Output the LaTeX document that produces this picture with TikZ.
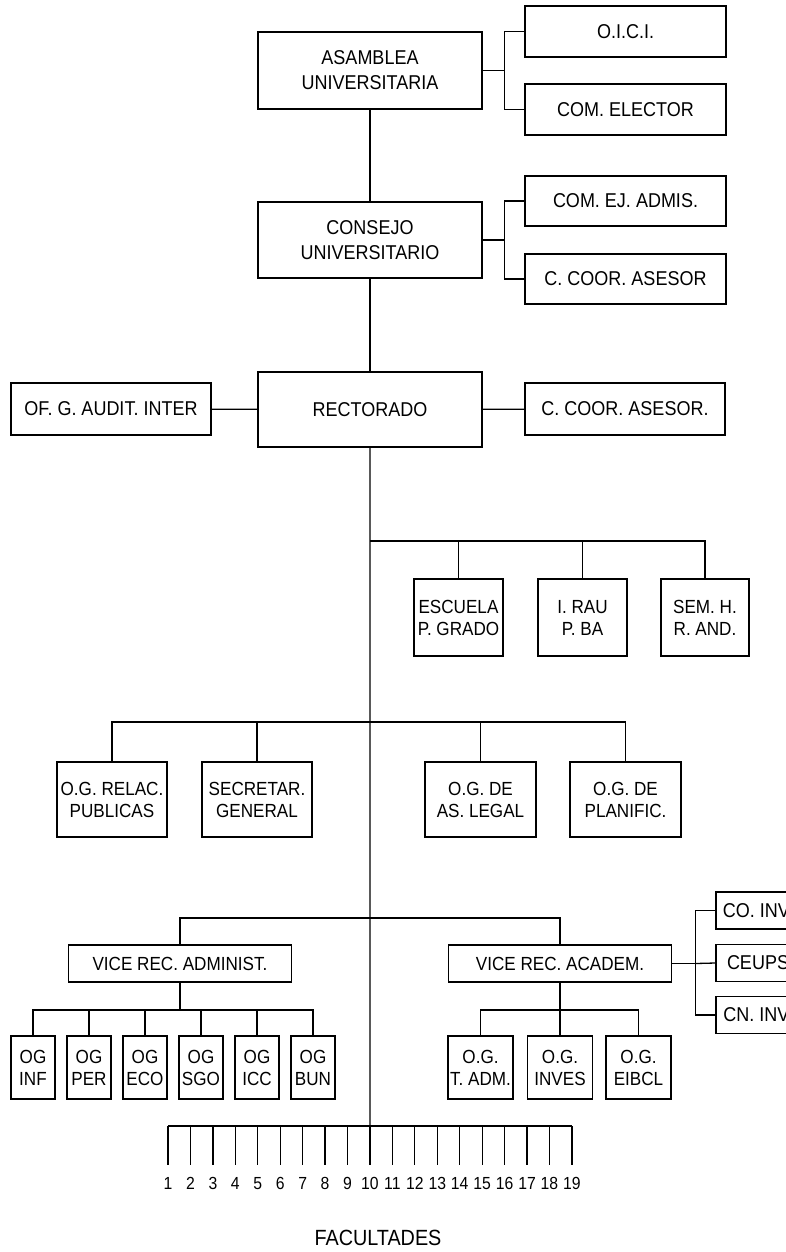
\documentclass[tikz,border=0pt]{standalone}
\usepackage{fontspec}
\setmainfont{Liberation Sans}[FakeStretch=0.9]

\tikzset{
  unit/.style={draw, line width=1.3pt, inner sep=0pt, align=center,
    font=\fontsize{20}{25}\selectfont},
  subunit/.style={unit, font=\fontsize{19}{22}\selectfont},
  link/.style={line width=1.3pt},
}

\begin{document}
\begin{tikzpicture}[x=1pt, y=-1pt]

\newcommand\SIDE{201}
\newcommand\MAIN{224}

\useasboundingbox (0,0) rectangle (786,1252);
\clip (0,0) rectangle (786,1252);

%% asamblea
\node[unit, minimum width=\MAIN, minimum height=77] (asamblea) at (370,70.5)
{ASAMBLEA\\UNIVERSITARIA};
\node[unit, minimum width=\SIDE, minimum height=51] (oici) at (625.5,31.5) {O.I.C.I.};
\node[unit, minimum width=\SIDE, minimum height=51] (elector) at (625.5,109.5) {COM. ELECTOR};

\path (asamblea.east) ++(22,0) coordinate (b1);
\draw[link] (asamblea.east) -- (b1);
\draw[link] (oici.west) -| (b1) |- (elector.west);

%% consejo
\node[unit, minimum width=\MAIN, minimum height=76] (consejo) at (370,240)
{CONSEJO\\UNIVERSITARIO};
\node[unit, minimum width=\SIDE, minimum height=50] (ejadmis) at (625.5,201) {COM. EJ. ADMIS.};
\node[unit, minimum width=\SIDE, minimum height=50] (coorasesor) at (625.5,279) {C. COOR. ASESOR};

\path (consejo.east) ++(22,0) coordinate (b2);
\draw[link] (consejo.east) -- (b2);
\draw[link] (ejadmis.west) -| (b2) |- (coorasesor.west);

\draw[link] (asamblea) -- (consejo);

%% rectorado
\node[unit, minimum width=\MAIN, minimum height=75] (rector) at (370,409.5) {RECTORADO};
\node[unit, minimum width=200, minimum height=52] (audit) at (111,409) {OF. G. AUDIT. INTER};
\node[unit, minimum width=200, minimum height=52] (asesor) at (625,409) {C. COOR. ASESOR.};

\draw[link] (consejo) -- (rector);
\draw[link] (audit) -- (rector);
\draw[link] (rector) -- (asesor);

%% organos de apoyo
\coordinate (j1) at (370,541);
\node[subunit, minimum width=89, minimum height=77] (escuela) at (458.5,617.5) {ESCUELA\\P. GRADO};
\node[subunit, minimum width=89, minimum height=77] (irau) at (582.5,617.5) {I. RAU\\P. BA};
\node[subunit, minimum width=88, minimum height=77] (sem) at (705,617.5) {SEM. H.\\R. AND.};

\draw[link] (escuela.north) |- (j1);
\draw[link] (irau.north) |- (j1);
\draw[link] (sem.north) |- (j1);

%% oficinas generales
\coordinate (j2) at (370,722);
\node[subunit, minimum width=110, minimum height=75] (relac) at (112,799.5) {O.G. RELAC.\\PUBLICAS};
\node[subunit, minimum width=110, minimum height=75] (secretar) at (257,799.5) {SECRETAR.\\GENERAL};
\node[subunit, minimum width=111, minimum height=75] (legal) at (480.5,799.5) {O.G. DE\\AS. LEGAL};
\node[subunit, minimum width=111, minimum height=75] (planific) at (625.5,799.5) {O.G. DE\\PLANIFIC.};

\draw[link] (relac.north) |- (j2);
\draw[link] (secretar.north) |- (j2);
\draw[link] (legal.north) |- (j2);
\draw[link] (planific.north) |- (j2);

%% vicerrectorados
\coordinate (j3) at (370,918);
\node[subunit, minimum width=223, minimum height=37] (admin) at (180,963.5) {VICE REC. ADMINIST.};
\node[subunit, minimum width=223, minimum height=37] (academ) at (560,963.5) {VICE REC. ACADEM.};

\draw[link] (admin.north) |- (j3);
\draw[link] (academ.north) |- (j3);

%% comisiones (cortadas por el borde)
\node[unit, minimum width=84, minimum height=37] (coinv) at (758,910.5) {CO. INV.};
\node[unit, minimum width=84, minimum height=37] (ceups) at (758,963) {CEUPS};
\node[unit, minimum width=84, minimum height=37] (cninv) at (758,1015) {CN. INV.};

\path (academ.east) ++(23.5,0) coordinate (b4);
\draw[link] (academ.east) -- (b4);
\draw[link] (coinv.west) -| (b4) |- (cninv.west);
\draw[link] (b4) -- (ceups.west);

%% oficinas administrativas
\coordinate (j5) at (180,1010);
\node[subunit, minimum width=44, minimum height=63] (oginf) at (33,1067.5) {OG\\INF};
\node[subunit, minimum width=44, minimum height=63] (ogper) at (89,1067.5) {OG\\PER};
\node[subunit, minimum width=44, minimum height=63] (ogeco) at (145,1067.5) {OG\\ECO};
\node[subunit, minimum width=44, minimum height=63] (ogsgo) at (201,1067.5) {OG\\SGO};
\node[subunit, minimum width=44, minimum height=63] (ogicc) at (257,1067.5) {OG\\ICC};
\node[subunit, minimum width=44, minimum height=63] (ogbun) at (313,1067.5) {OG\\BUN};

\draw[link] (admin) -- (j5);
\draw[link] (oginf.north) |- (j5) -| (ogbun.north);
\draw[link] (ogper.north) -- (ogper.north |- j5);
\draw[link] (ogeco.north) -- (ogeco.north |- j5);
\draw[link] (ogsgo.north) -- (ogsgo.north |- j5);
\draw[link] (ogicc.north) -- (ogicc.north |- j5);

%% oficinas academicas
\coordinate (j6) at (560,1010);
\node[subunit, minimum width=65, minimum height=63] (ogtadm) at (480.5,1067.5) {O.G.\\T. ADM.};
\node[subunit, minimum width=65, minimum height=63] (oginves) at (560,1067.5) {O.G.\\INVES};
\node[subunit, minimum width=65, minimum height=63] (ogeibcl) at (638.5,1067.5) {O.G.\\EIBCL};

\draw[link] (academ) -- (j6);
\draw[link] (ogtadm.north) |- (j6) -| (ogeibcl.north);
\draw[link] (oginves) -- (j6);

%% facultades
\foreach \i in {1,...,19}{
  \coordinate (t\i) at ({168+22.44*(\i-1)},1126);
  \coordinate (e\i) at ({168+22.44*(\i-1)},1165);
  \node[font=\fontsize{17.5}{19}\selectfont, inner sep=0pt, anchor=base] (f\i)
    at ({168+22.44*(\i-1)},1189.5) {\i};
  \draw[link] (t\i) -- (e\i);
}
\draw[link] (t1) -- (t19);
\draw[link] (rector) -- (t10);

\node[font=\fontsize{22}{24}\selectfont] (facultades) at (378,1238) {FACULTADES};

\end{tikzpicture}
\end{document}
